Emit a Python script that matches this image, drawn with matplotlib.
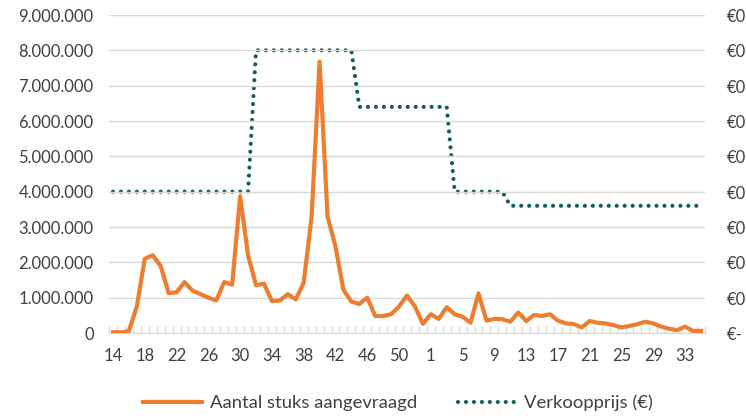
import matplotlib
matplotlib.use('Agg')
import matplotlib.pyplot as plt
from matplotlib.ticker import FuncFormatter, FixedLocator

plt.rcParams['font.family'] = ['Lato', 'DejaVu Sans']

# weeknummers (2020 heeft week 53)
weeks = list(range(14, 54)) + list(range(1, 36))

# aantal stuks aangevraagd (in miljoenen)
aantal_mln = [
    0.02, 0.02, 0.05, 0.75, 2.10, 2.20, 1.90, 1.13, 1.15, 1.44,
    1.20, 1.10, 1.00, 0.92, 1.44, 1.37, 3.87, 2.20, 1.35, 1.40,
    0.90, 0.92, 1.10, 0.95, 1.42, 3.30, 7.68, 3.30, 2.45, 1.22,
    0.89, 0.82, 1.00, 0.48, 0.48, 0.53, 0.75, 1.06, 0.75, 0.26,
    0.53, 0.40, 0.73, 0.53, 0.46, 0.29, 1.12, 0.35, 0.40, 0.39,
    0.32, 0.58, 0.34, 0.51, 0.48, 0.53, 0.35, 0.27, 0.25, 0.16,
    0.34, 0.29, 0.27, 0.22, 0.16, 0.20, 0.25, 0.32, 0.27, 0.18,
    0.12, 0.08, 0.18, 0.06, 0.06,
]
aantal = [v * 1_000_000 for v in aantal_mln]

# verkoopprijs per stuk (euro)
prijs = ([0.40] * 18 + [0.80] * 13 + [0.64] * 12 + [0.40] * 7 + [0.36] * 25)

ORANJE = '#ED7D31'
TEAL = '#135E5C'
GRID = '#D9D9D9'

fig = plt.figure(figsize=(7.46, 4.16), dpi=100)
ax = fig.add_axes([109 / 746, 1 - 333 / 416, 596 / 746, 318 / 416])
ax2 = ax.twinx()

x = list(range(len(weeks)))
ax.plot(x, aantal, color=ORANJE, lw=3, solid_joinstyle='round', zorder=3)
ax2.plot(x, prijs, color=TEAL, lw=3, linestyle=(0, (0.01, 1.9)),
         dash_capstyle='round', zorder=2)

ax.set_zorder(ax2.get_zorder() + 1)
ax.patch.set_visible(False)

ax.set_xlim(-0.5, len(weeks) - 0.5)
ax.set_ylim(0, 9_000_000)
ax2.set_ylim(0, 0.9)
ax.set_yticks(range(0, 9_000_001, 1_000_000))
ax2.set_yticks([i / 10 for i in range(10)])

ax.yaxis.set_major_formatter(FuncFormatter(lambda v, p: f"{int(v):,}".replace(',', '.')))
ax2.yaxis.set_major_formatter(FuncFormatter(
    lambda v, p: '€-' if v == 0 else f"€{v:.2f}".replace('.', ',')))

ax.grid(axis='y', color=GRID, lw=1)
ax.set_axisbelow(True)

# x-as: label om de 4 weken, streepjes tussen categorieën
ax.set_xticks(x[::4])
ax.set_xticklabels([str(w) for w in weeks[::4]])
ax.xaxis.set_minor_locator(FixedLocator([i - 0.5 for i in range(len(weeks) + 1)]))
ax.tick_params(axis='x', which='major', length=0, pad=11, labelsize=12, colors='#404040')
ax.tick_params(axis='x', which='minor', length=5, direction='in', color=GRID, width=1)
ax.tick_params(axis='y', length=0, pad=11, labelsize=12, colors='#404040')
ax2.tick_params(axis='y', length=0, pad=16, labelsize=12, colors='#404040')

for a in (ax, ax2):
    for s in ('top', 'left', 'right'):
        a.spines[s].set_visible(False)
    a.spines['bottom'].set_color(GRID)

h1 = plt.Line2D([], [], color=ORANJE, lw=3)
h2 = plt.Line2D([], [], color=TEAL, lw=3, linestyle=(0, (0.01, 1.9)), dash_capstyle='round')
fig.legend([h1, h2], ['Aantal stuks aangevraagd', 'Verkoopprijs (€)'],
           loc='center', bbox_to_anchor=(398 / 746, 1 - 403 / 416), ncol=2,
           frameon=False, fontsize=13.3, handlelength=3.2, handletextpad=0.4,
           columnspacing=2.2, labelcolor='#404040', borderpad=0)

fig.savefig('out.png', dpi=100)
